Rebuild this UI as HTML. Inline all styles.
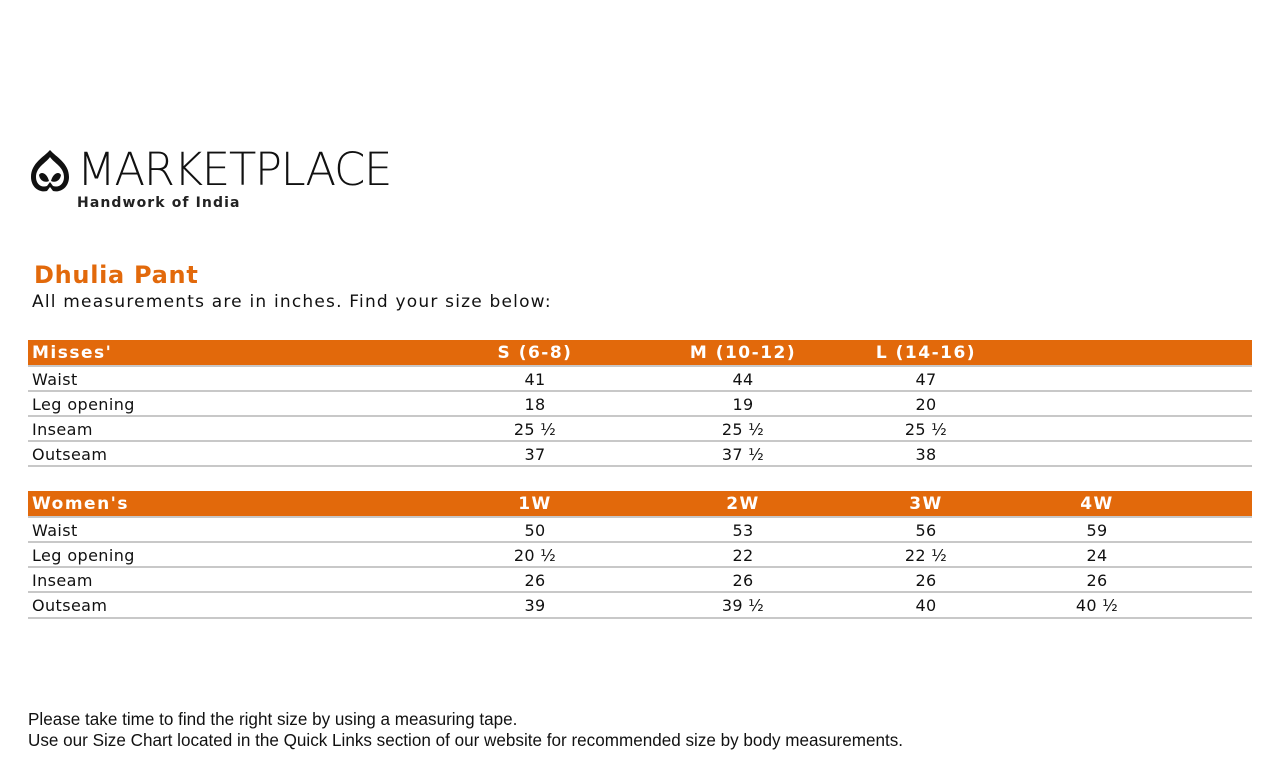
<!DOCTYPE html>
<html><head><meta charset="utf-8"><style>
body{margin:0;width:1280px;height:760px;background:#fff;position:relative;overflow:hidden;font-family:"DejaVu Sans","Liberation Sans",sans-serif;}
.a{position:absolute;white-space:nowrap}
.bar{position:absolute;left:28px;width:1224px;height:25px;background:#e2690b}
.ln{position:absolute;left:28px;width:1224px;height:2px;background:#c8c8c8}
.h{position:absolute;color:#fff;font-weight:bold;font-size:17px;line-height:25px;letter-spacing:1.5px}
.c{position:absolute;font-size:16px;line-height:25px;color:#111;transform:translateX(-50%);letter-spacing:0.3px}
.l{position:absolute;left:32px;font-size:16px;line-height:25px;color:#111;letter-spacing:0.4px}
</style></head><body>
<svg class="a" style="left:29px;top:149px" width="42" height="46" viewBox="0 0 42 46">
<path d="M21 1 C15 8 2 14 2 28 C2 38 10 44 18 42 L21 38 L24 42 C32 44 40 38 40 28 C40 14 27 8 21 1Z" fill="#111"/>
<path d="M21 8 C17 14 7 18 7 28 C7 35 12 39 18 37 L21 33 L24 37 C30 39 35 35 35 28 C35 18 25 14 21 8Z" fill="#fff"/>
<path d="M10 26 C12 22 18 24 20 32 C16 34 11 32 10 26Z M32 26 C30 22 24 24 22 32 C26 34 31 32 32 26Z" fill="#111"/>
</svg>
<div class="a" style="left:77px;top:143px;font-family:'DejaVu Sans',sans-serif;font-size:45px;font-weight:300;letter-spacing:-1.4px;color:#111">MARKETPLACE</div>
<div class="a" style="left:77px;top:195px;font-size:14px;font-weight:bold;color:#222;letter-spacing:1.1px">Handwork of India</div>
<div class="a" style="left:34px;top:261px;font-size:24px;font-weight:bold;color:#e2690b;letter-spacing:0.7px">Dhulia Pant</div>
<div class="a" style="left:32px;top:292px;font-size:17px;color:#111;letter-spacing:1.2px">All measurements are in inches. Find your size below:</div>

<div class="bar" style="top:340px"></div>
<div class="h" style="left:32px;top:341px">Misses'</div>
<div class="h" style="left:535px;top:341px;transform:translateX(-50%)">S (6-8)</div>
<div class="h" style="left:743px;top:341px;transform:translateX(-50%)">M (10-12)</div>
<div class="h" style="left:926px;top:341px;transform:translateX(-50%)">L (14-16)</div>
<div class="ln" style="top:365px"></div>
<div class="l" style="top:367px">Waist</div><div class="c" style="left:535px;top:367px">41</div><div class="c" style="left:743px;top:367px">44</div><div class="c" style="left:926px;top:367px">47</div>
<div class="ln" style="top:390px"></div>
<div class="l" style="top:392px">Leg opening</div><div class="c" style="left:535px;top:392px">18</div><div class="c" style="left:743px;top:392px">19</div><div class="c" style="left:926px;top:392px">20</div>
<div class="ln" style="top:415px"></div>
<div class="l" style="top:417px">Inseam</div><div class="c" style="left:535px;top:417px">25 ½</div><div class="c" style="left:743px;top:417px">25 ½</div><div class="c" style="left:926px;top:417px">25 ½</div>
<div class="ln" style="top:440px"></div>
<div class="l" style="top:442px">Outseam</div><div class="c" style="left:535px;top:442px">37</div><div class="c" style="left:743px;top:442px">37 ½</div><div class="c" style="left:926px;top:442px">38</div>
<div class="ln" style="top:465px"></div>

<div class="bar" style="top:491px"></div>
<div class="h" style="left:32px;top:492px">Women's</div>
<div class="h" style="left:535px;top:492px;transform:translateX(-50%)">1W</div>
<div class="h" style="left:743px;top:492px;transform:translateX(-50%)">2W</div>
<div class="h" style="left:926px;top:492px;transform:translateX(-50%)">3W</div>
<div class="h" style="left:1097px;top:492px;transform:translateX(-50%)">4W</div>
<div class="ln" style="top:516px"></div>
<div class="l" style="top:518px">Waist</div><div class="c" style="left:535px;top:518px">50</div><div class="c" style="left:743px;top:518px">53</div><div class="c" style="left:926px;top:518px">56</div><div class="c" style="left:1097px;top:518px">59</div>
<div class="ln" style="top:541px"></div>
<div class="l" style="top:543px">Leg opening</div><div class="c" style="left:535px;top:543px">20 ½</div><div class="c" style="left:743px;top:543px">22</div><div class="c" style="left:926px;top:543px">22 ½</div><div class="c" style="left:1097px;top:543px">24</div>
<div class="ln" style="top:566px"></div>
<div class="l" style="top:568px">Inseam</div><div class="c" style="left:535px;top:568px">26</div><div class="c" style="left:743px;top:568px">26</div><div class="c" style="left:926px;top:568px">26</div><div class="c" style="left:1097px;top:568px">26</div>
<div class="ln" style="top:591px"></div>
<div class="l" style="top:593px">Outseam</div><div class="c" style="left:535px;top:593px">39</div><div class="c" style="left:743px;top:593px">39 ½</div><div class="c" style="left:926px;top:593px">40</div><div class="c" style="left:1097px;top:593px">40 ½</div>
<div class="ln" style="top:617px"></div>

<div class="a" style="left:28px;top:710px;font-family:'Liberation Sans',sans-serif;font-size:17.1px;color:#111">Please take time to find the right size by using a measuring tape.</div>
<div class="a" style="left:28px;top:731px;font-family:'Liberation Sans',sans-serif;font-size:17.1px;color:#111">Use our Size Chart located in the Quick Links section of our website for recommended size by body measurements.</div>
</body></html>
